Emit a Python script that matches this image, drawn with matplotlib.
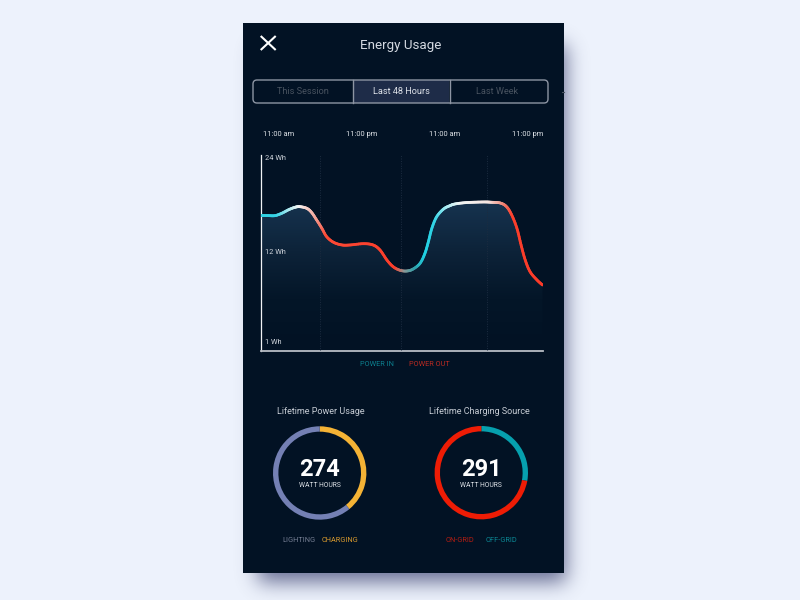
import numpy as np
import matplotlib
matplotlib.use("Agg")
import matplotlib.pyplot as plt
from matplotlib.bezier import BezierSegment
from matplotlib.collections import LineCollection
from matplotlib.colors import LinearSegmentedColormap, to_rgb
from matplotlib.patches import FancyBboxPatch, Rectangle, Polygon

plt.rcParams['font.family'] = ['Roboto', 'DejaVu Sans']

# hours from the left edge of the chart, energy in Wh
hours = [0, 1.0, 2.0, 3.0, 4.0, 4.9, 5.6, 6.6, 7.3, 8.05, 8.8, 9.5, 10.5, 11.7, 12.9, 14.8, 16.2, 17.2,
         18.2, 19.1, 20.1, 21.1, 22.0, 23.0, 23.7, 24.2, 24.7, 25.4, 26.4, 27.3, 28.05, 29.5, 30.9, 32.4,
         33.4, 34.6, 35.5, 36.25, 37.0, 37.6, 38.2, 38.9, 39.9, 40.7]
energy = [16.77, 16.76, 16.75, 17.05, 17.5, 17.8, 17.88, 17.68, 17.17, 16.2, 15.16, 14.1, 13.4, 13.07,
          13.07, 13.23, 13.07, 12.44, 11.18, 10.34, 9.89, 9.8, 10.05, 10.77, 12.02, 13.48, 15.16, 16.62,
          17.59, 18.0, 18.22, 18.38, 18.44, 18.47, 18.43, 18.34, 17.88, 16.83, 15.16, 13.07, 11.18, 9.71,
          8.67, 8.04]

time_ticks = [2.5, 14.5, 26.5, 38.5]
time_labels = ["11:00 am", "11:00 pm", "11:00 am", "11:00 pm"]
grid_hours = [8.6, 20.2, 32.7]
wh_ticks = [24, 12.3, 1]
wh_labels = ["24 Wh", "12 Wh", "1 Wh"]

tabs = ["This Session", "Last 48 Hours", "Last Week"]

usage_values = [107, 167]
usage_colors = ["#f5b335", "#7480b4"]
source_values = [81, 210]
source_colors = ["#06a0ae", "#ee1c05"]

BG = "#edf2fc"
PANEL = "#021224"
W, H = 800, 600


def px_axes(fig, left, top, right, bottom, **kw):
    # axes placed by pixel box, y counted from the top of the picture
    return fig.add_axes([left / W, 1 - bottom / H, (right - left) / W, (bottom - top) / H], **kw)


def blur(a, sigma):
    x = np.arange(-3 * int(sigma), 3 * int(sigma) + 1)
    k = np.exp(-x ** 2 / (2 * sigma ** 2))
    k = k / k.sum()
    a = np.apply_along_axis(lambda r: np.convolve(r, k, mode="same"), 0, a)
    return np.apply_along_axis(lambda r: np.convolve(r, k, mode="same"), 1, a)


def smooth_curve(xs, ys):
    # catmull-rom through the read values, drawn as bezier pieces
    p = np.column_stack([xs, ys])
    p = np.vstack([p[0], p, p[-1]])
    out = []
    for i in range(1, len(p) - 2):
        ctrl = [p[i], p[i] + (p[i + 1] - p[i - 1]) / 6, p[i + 1] - (p[i + 2] - p[i]) / 6, p[i + 1]]
        out.append(BezierSegment(np.array(ctrl))(np.linspace(0, 1, 8, endpoint=False)))
    out.append(p[-1:])
    return np.vstack(out)


fig = plt.figure(figsize=(8, 6), dpi=100, facecolor=BG)

# page, shadow and phone panel
bg = fig.add_axes([0, 0, 1, 1], zorder=0)
bg.set_xlim(0, W)
bg.set_ylim(H, 0)
bg.axis("off")

mask = np.zeros((H, W))
mask[45:582, 258:566] = 1
mask = blur(mask, 10)
shadow = np.zeros((H, W, 4))
shadow[..., :3] = to_rgb("#3a4170")
shadow[..., 3] = mask * 0.75
bg.imshow(shadow, extent=(0, W, H, 0), aspect="auto", zorder=1)
bg.add_patch(Rectangle((243, 23), 321, 550, fc=PANEL, ec="none", zorder=2))

# close icon and title
bg.plot([260.7, 275.7], [36, 50], color="white", lw=1.5, zorder=3, solid_capstyle="butt")
bg.plot([275.7, 260.7], [36, 50], color="white", lw=1.5, zorder=3, solid_capstyle="butt")
bg.text(401, 45.5, "Energy Usage", color="#d5dae2", fontsize=9.6, ha="center", va="center", zorder=3)

# tab bar
bg.add_patch(Rectangle((353, 80), 96, 23, fc="#1e2c48", ec="none", zorder=3))
bg.add_patch(FancyBboxPatch((253, 80), 295, 23, boxstyle="round,pad=0,rounding_size=4",
                            fc="none", ec="#8d95a3", lw=1.0, zorder=4))
for x in [352.5, 449.5]:
    bg.plot([x, x], [80, 103], color="#8d95a3", lw=1.0, zorder=4)
tab_x = [302.5, 401, 497]
tab_colors = ["#48525f", "#dde1e8", "#48525f"]
for x, t, c in zip(tab_x, tabs, tab_colors):
    bg.text(x, 91.5, t, color=c, fontsize=6.6, ha="center", va="center", zorder=5)
bg.plot([562, 564], [92, 92], color="#48525f", lw=0.8, zorder=3)

# area chart
ax = px_axes(fig, 261, 155, 543, 351, zorder=2)
ax.patch.set_alpha(0)

for g in grid_hours:
    ax.axvline(g, color="#1c2c40", lw=0.7, ls=(0, (1, 1.5)), zorder=3)

curve = smooth_curve(hours, energy)
area = Polygon(np.vstack([curve, [[curve[-1, 0], -0.25], [curve[0, 0], -0.25]]]), fc="none", ec="none",
               transform=ax.transData)
ax.add_patch(area)
grad_cmap = LinearSegmentedColormap.from_list("fill", ["#16334f", "#0d2339", "#041628", PANEL])
grad = ax.imshow(np.linspace(0, 1, 200).reshape(-1, 1), cmap=grad_cmap, origin="upper", aspect="auto",
                 extent=(0, 40.77, 0.3, 18.5), zorder=1)
grad.set_clip_path(area)
ax.set_xlim(0, 40.77)
ax.set_ylim(-0.25, 24.37)

stops = [(0, "#2fd2e4"), (2.2, "#35d2e4"), (3.9, "#a5e8ef"), (5.6, "#f8f6f4"), (7.8, "#f3a79c"),
         (9.4, "#fb4a36"), (19.4, "#fb3d2a"), (20.8, "#8e9a98"), (22.3, "#2f9fa9"), (23.7, "#1fd0e2"),
         (25.2, "#35d4e6"), (26.9, "#a8ecf2"), (28.8, "#f2f6f6"), (33.1, "#f6e6e2"), (35, "#f08f80"),
         (36.4, "#fb3f2c"), (40.77, "#fb3a28")]
line_cmap = LinearSegmentedColormap.from_list("curve", [(h / 40.77, c) for h, c in stops])
segs = np.stack([curve[:-1], curve[1:]], axis=1)
mids = (curve[:-1, 0] + curve[1:, 0]) / 2
lc = LineCollection(segs, colors=line_cmap(mids / 40.77), linewidths=2.0, capstyle="round", zorder=4)
ax.add_collection(lc)

for s in ["top", "right"]:
    ax.spines[s].set_visible(False)
ax.spines["left"].set_color("#f0f2f5")
ax.spines["left"].set_linewidth(0.9)
ax.spines["bottom"].set_color("#b8bdc5")
ax.spines["bottom"].set_linewidth(1.3)

ax.xaxis.tick_top()
ax.set_xticks(time_ticks)
ax.set_xticklabels(time_labels, color="#dfe3e8", fontsize=5.4)
ax.tick_params(axis="x", length=0, pad=12.2)
ax.set_yticks(wh_ticks)
ax.set_yticklabels(wh_labels, color="#d0d5dc", fontsize=5.3, ha="left")
ax.tick_params(axis="y", length=0, pad=-3, direction="in")

bg.text(376.5, 364.5, "POWER IN", color="#0c7f8e", fontsize=5.3, ha="center", va="center", zorder=3)
bg.text(429, 364.5, "POWER OUT", color="#b92a22", fontsize=5.3, ha="center", va="center", zorder=3)


def donut(cx, cy, r, values, colors, total, title, title_x, names, name_x, name_colors):
    a = px_axes(fig, cx - r, cy - r, cx + r, cy + r, zorder=2)
    a.pie(values, colors=colors, startangle=90, counterclock=False, radius=1,
          wedgeprops={"width": 0.115, "linewidth": 0})
    a.set_xlim(-1, 1)
    a.set_ylim(-1, 1)
    bg.text(title_x, 411.5, title, color="#c6ccd4", fontsize=6.5, ha="center", va="center", zorder=3)
    bg.text(cx, cy - 3, str(total), color="white", fontsize=17, fontweight="bold",
            ha="center", va="center", zorder=3)
    bg.text(cx, cy + 12.8, "WATT HOURS", color="#dfe3e8", fontsize=4.9, ha="center", va="center", zorder=3)
    for x, n, c in zip(name_x, names, name_colors):
        bg.text(x, 540, n, color=c, fontsize=5.3, ha="center", va="center", zorder=3)


donut(319.7, 473, 46.7, usage_values, usage_colors, 274, "Lifetime Power Usage", 321,
      ["LIGHTING", "CHARGING"], [298.5, 340], ["#767f94", "#d99a2e"])
donut(481.3, 472.7, 46.7, source_values, source_colors, 291, "Lifetime Charging Source", 479.5,
      ["ON-GRID", "OFF-GRID"], [460, 501], ["#b31d12", "#0b8794"])

fig.savefig("out.png", dpi=100, facecolor=BG)
